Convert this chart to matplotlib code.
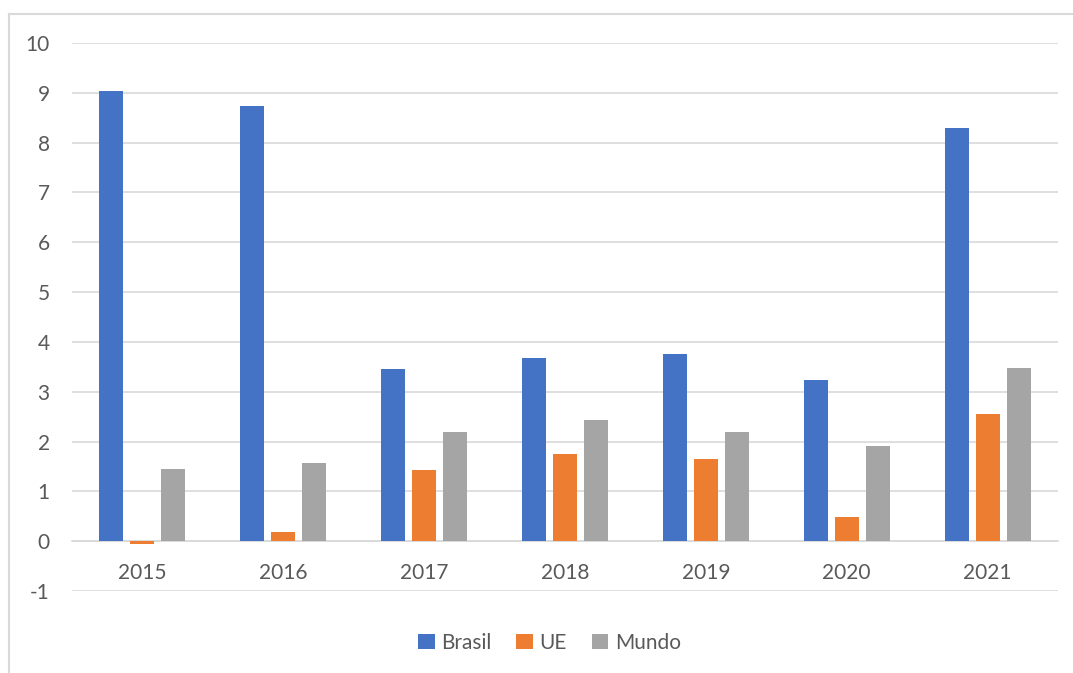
import numpy as np
import matplotlib
matplotlib.use("Agg")
import matplotlib.pyplot as plt
from matplotlib.lines import Line2D

years = ["2015", "2016", "2017", "2018", "2019", "2020", "2021"]
brasil = [9.04, 8.74, 3.45, 3.67, 3.75, 3.23, 8.30]
ue = [-0.06, 0.18, 1.42, 1.74, 1.64, 0.48, 2.55]
mundo = [1.44, 1.56, 2.20, 2.44, 2.20, 1.92, 3.47]

series = ["Brasil", "UE", "Mundo"]
colors = ["#4472C4", "#ED7D31", "#A5A5A5"]
text_color = "#595959"
grid_color = "#D9D9D9"

plt.rcParams["font.family"] = ["Lato", "DejaVu Sans"]
plt.rcParams["axes.unicode_minus"] = False

fig = plt.figure(figsize=(10.73, 6.73), dpi=100)
ax = fig.add_axes([72 / 1073, 1 - 591 / 673, (1058 - 72) / 1073, (591 - 43) / 673])

x = np.arange(len(years))
width = 0.17
offset = 0.22
for i, (name, vals) in enumerate(zip(series, [brasil, ue, mundo])):
    ax.bar(x + (i - 1) * offset, vals, width, color=colors[i], label=name, zorder=3)

ax.set_xlim(-0.5, len(years) - 0.5)
ax.set_ylim(-1, 10)
ax.set_yticks(range(-1, 11))
ax.yaxis.grid(True, color=grid_color, linewidth=1.2, zorder=0)
ax.set_axisbelow(True)

for s in ["left", "right", "top"]:
    ax.spines[s].set_visible(False)
ax.spines["bottom"].set_position(("data", 0))
ax.spines["bottom"].set_color(grid_color)
ax.spines["bottom"].set_linewidth(1.2)

ax.set_xticks(x)
ax.set_xticklabels(years)
ax.tick_params(axis="x", length=0, pad=16, labelsize=15, labelcolor=text_color)
ax.tick_params(axis="y", length=0, pad=16, labelsize=15, labelcolor=text_color)

fig.legend(loc="center", bbox_to_anchor=(0.512, 0.045), ncol=3, frameon=False,
           fontsize=15, labelcolor=text_color, handlelength=0.8, handleheight=0.8,
           handletextpad=0.3, columnspacing=1.2)

# chart area border (only top and left visible in the crop)
x0 = 8.5 / 1073
y0 = 1 - 13.5 / 673
fig.add_artist(Line2D([x0, x0], [0, y0], color=grid_color, linewidth=1.5))
fig.add_artist(Line2D([x0, 1], [y0, y0], color=grid_color, linewidth=1.5))

fig.savefig("out.png", dpi=100)
